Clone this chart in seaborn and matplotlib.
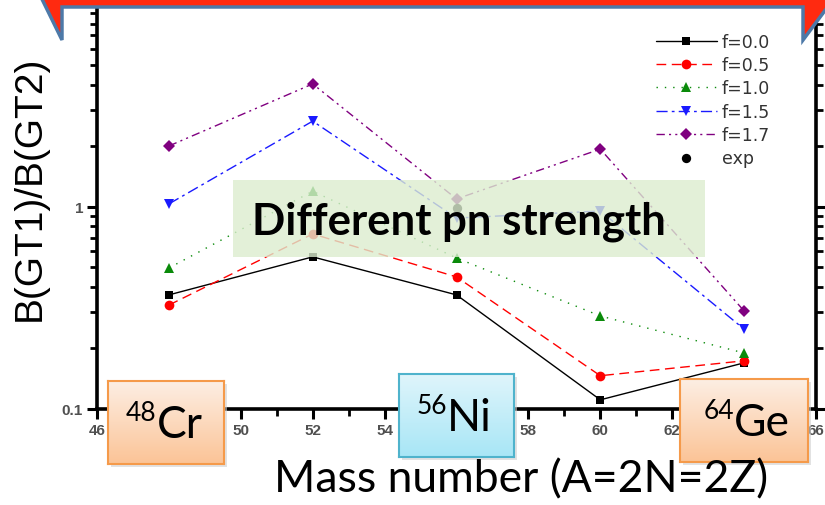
import numpy as np
import pandas as pd
import matplotlib
matplotlib.use("Agg")
import matplotlib.pyplot as plt
import seaborn as sns
from matplotlib.patches import Polygon, Rectangle

# ---------------- data ----------------
mass = [48, 52, 56, 60, 64]
f00 = [0.366, 0.564, 0.366, 0.111, 0.169]
f05 = [0.326, 0.732, 0.449, 0.146, 0.173]
f10 = [0.497, 1.19, 0.557, 0.288, 0.189]
f15 = [1.03, 2.64, 0.877, 0.95, 0.248]
f17 = [1.99, 4.03, 1.09, 1.92, 0.305]
exp_mass = [56]
exp_val = [0.98]
labels = ["f=0.0", "f=0.5", "f=1.0", "f=1.5", "f=1.7", "exp"]
xticks = [46, 48, 50, 52, 54, 56, 58, 60, 62, 64, 66]
# labels hidden behind the nucleus boxes are left blank
xticklabels = ["46", "", "50", "52", "54", "", "58", "60", "62", "", "66"]
nuclei = [("48", "Cr"), ("56", "Ni"), ("64", "Ge")]

sns.set_theme(style="white")
plt.rcParams["font.family"] = ["Liberation Sans", "DejaVu Sans"]
plt.rcParams["xtick.labelsize"] = 11
plt.rcParams["ytick.labelsize"] = 11

W, H = 825, 506
fig = plt.figure(figsize=(W / 100, H / 100), dpi=100)
fig.patch.set_facecolor("white")

def fx(x):
    return x / W

def fy(y):
    return 1 - y / H

ax = fig.add_axes([fx(97), fy(410), (816 - 97) / W, (410 - 5) / H])
ax.set_facecolor("white")

styles = [
    (f00, "black", "s", "-", 6),
    (f05, "#ff0000", "o", (0, (7, 4)), 7),
    (f10, "#0a8a0a", "^", (0, (1, 5)), 7.5),
    (f15, "#1a1aff", "v", (0, (8, 3, 2, 3)), 7.5),
    (f17, "#800080", "D", (0, (6, 3, 1.5, 3, 1.5, 3)), 6),
]
for (vals, col, mk, ls, ms), lab in zip(styles, labels[:5]):
    sns.lineplot(x=mass, y=vals, ax=ax, color=col, marker=mk, linestyle=ls,
                 linewidth=1.0, markersize=ms, markeredgewidth=0,
                 label=lab, zorder=3)
sns.scatterplot(x=exp_mass, y=exp_val, ax=ax, color="black", marker="o",
                s=45, linewidth=0, label="exp", zorder=4)

ax.set_yscale("log")
ax.set_xlim(46, 66)
ax.set_ylim(0.1, 10)
ax.set_xticks(xticks)
ax.set_xticklabels(xticklabels)
ax.xaxis.set_minor_locator(matplotlib.ticker.MultipleLocator(1))
ax.set_yticks([0.1, 1, 10])
ax.set_yticklabels(["0.1", "1", ""])
ax.yaxis.set_minor_locator(matplotlib.ticker.LogLocator(base=10, subs=np.arange(2, 10)))
ax.yaxis.set_minor_formatter(matplotlib.ticker.NullFormatter())
ax.tick_params(axis="both", which="both", direction="out", colors="black",
               labelcolor="#505050", top=True, right=True,
               bottom=True, left=True)
ax.tick_params(axis="both", which="major", length=7, width=2.2, pad=3)
ax.tick_params(axis="both", which="minor", length=5, width=2.0)
ax.tick_params(axis="y", which="both", right=True, labelright=False)
ax.tick_params(axis="both", which="major", labelsize=11)
for sp in ax.spines.values():
    sp.set_linewidth(2.6)
    sp.set_color("black")

ax.set_xlabel("")
ax.set_ylabel("")

leg = ax.legend(loc="upper left", bbox_to_anchor=(fx(656), fy(34)),
                bbox_transform=fig.transFigure, frameon=False,
                prop={"family": "DejaVu Sans", "size": 12.5},
                handlelength=3.5, handletextpad=0.3,
                labelspacing=0.3, borderpad=0, borderaxespad=0)
for t in leg.get_texts():
    t.set_color("#333333")

# y label
fig.text(fx(30), fy(188), "B(GT1)/B(GT2)", rotation=90, ha="center",
         va="center", fontsize=28, color="black")

# x label
fig.text(fx(521), fy(480), "Mass number (A=2N=2Z)", ha="center",
         va="center", fontsize=32, color="black", family="Lato")

# green annotation box
fig.patches.append(Rectangle((fx(233), fy(258)), fx(705) - fx(233),
                             fy(181) - fy(258), transform=fig.transFigure,
                             facecolor="#dcedcf", edgecolor="none",
                             alpha=0.8, zorder=5))
fig.text(fx(459), fy(222), "Different pn strength", ha="center",
         va="center", fontsize=31.5, fontweight="bold", color="black",
         family="Lato", zorder=6)

# nucleus boxes with gradient
boxes = [
    (108, 224, 382, 465, ("#fdeee3", "#fbc497"), "#f59a4a"),
    (399, 514, 375, 458, ("#dff5fb", "#a8e6f6"), "#4fb3cc"),
    (680, 808, 380, 463, ("#fdeee3", "#fbc497"), "#f59a4a"),
]
grad = np.linspace(0, 1, 64).reshape(-1, 1)
for (x0, x1, y0, y1, (ctop, cbot), edge), (num, sym) in zip(boxes, nuclei):
    sh = fig.add_axes([fx(x0 + 3), fy(y1 + 3), (x1 - x0) / W, (y1 - y0) / H])
    sh.set_facecolor("#d0d0d0")
    sh.set_xticks([]); sh.set_yticks([])
    for sp in sh.spines.values():
        sp.set_visible(False)
    sh.patch.set_alpha(0.6)
    bax = fig.add_axes([fx(x0), fy(y1), (x1 - x0) / W, (y1 - y0) / H])
    cmap = matplotlib.colors.LinearSegmentedColormap.from_list("g", [ctop, cbot])
    bax.imshow(grad, aspect="auto", cmap=cmap, extent=[0, 1, 0, 1], origin="upper")
    bax.set_xticks([]); bax.set_yticks([])
    for sp in bax.spines.values():
        sp.set_color(edge)
        sp.set_linewidth(1.5)
    bax.text(0.42, 0.48, sym, ha="left", va="center", fontsize=32,
             family="Lato", transform=bax.transAxes, color="black")
    bax.text(0.42, 0.62, num, ha="right", va="center", fontsize=19,
             family="Lato", transform=bax.transAxes, color="black")

# banner at the top
pts = [(39, -6), (62, 41), (62, 8), (803, 8), (803, 41), (838, -6)]
banner = Polygon([(fx(x), fy(y)) for x, y in pts], closed=True,
                 transform=fig.transFigure, facecolor="#ff2a10",
                 edgecolor="#4d79a8", linewidth=2.5, zorder=10,
                 clip_on=False)
fig.patches.append(banner)

# bold tick labels (applied on the final tick objects)
fig.canvas.draw()
for t in ax.xaxis.get_major_ticks() + ax.yaxis.get_major_ticks():
    t.label1.set_fontweight("bold")
    t.label1.set_fontsize(11)

fig.savefig("out.png", dpi=100)
